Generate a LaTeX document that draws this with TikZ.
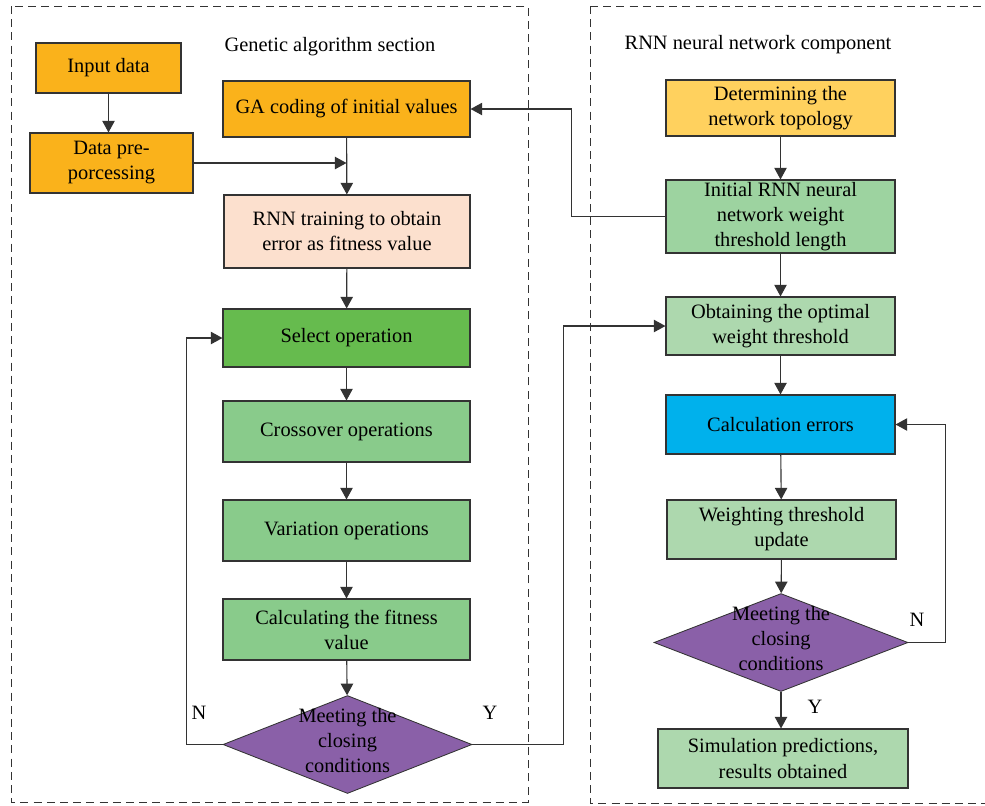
\documentclass[tikz,border=0pt]{standalone}
\usepackage{fontspec}
\setmainfont{Liberation Serif}
\usetikzlibrary{shapes.geometric,arrows.meta}

\definecolor{gaorange}{HTML}{FAB21B}
\definecolor{topyellow}{HTML}{FFD15E}
\definecolor{peach}{HTML}{FCE0CE}
\definecolor{selgreen}{HTML}{66BB4E}
\definecolor{midgreen}{HTML}{89CB8B}
\definecolor{initgreen}{HTML}{9DD3A0}
\definecolor{palegreen}{HTML}{ADD8AE}
\definecolor{errcyan}{HTML}{00B1EC}
\definecolor{decpurple}{HTML}{8A60A8}
\definecolor{linegray}{HTML}{333333}

\begin{document}
\begin{tikzpicture}[
  x=0.025cm, y=-0.025cm,
  font=\fontsize{14.5}{17.8}\selectfont,
  box/.style n args={3}{
    draw=linegray,
    line width=0.8pt,
    fill=#3,
    minimum width=#1*0.025cm,
    minimum height=#2*0.025cm,
    inner sep=0pt,
    align=center
  },
  decision/.style n args={2}{
    draw=linegray,
    line width=0.6pt,
    fill=decpurple,
    diamond,
    inner sep=0pt,
    minimum width=#1*0.025cm,
    minimum height=#2*0.025cm
  },
  arr/.style={
    draw=linegray,
    line width=0.8pt,
    -{Triangle[length=2.9mm,width=3.1mm]}
  },
  section/.style={
    draw=linegray,
    line width=0.6pt,
    dash pattern=on 2mm off 1.3mm
  },
]
\useasboundingbox (0,0) rectangle (985,805);

% the two parts
\draw[section] (11,6) rectangle (528,802);
\draw[section] (590,6) -- (1000,6);
\draw[section] (590,6) -- (590,803) -- (1000,803);
\node (gatitle) at (330,47) {Genetic algorithm section};
\node (rnntitle) at (758,45) {RNN neural network component};

% genetic algorithm
\node[box={145}{50}{gaorange}] (inp) at (108.5,68) {Input data};
\node[box={163}{60}{gaorange}] (pre) at (111.5,163) {Data pre-\\porcessing};
\node[box={247}{56}{gaorange}] (ga) at (346.5,109) {GA coding of initial values};
\node[box={246}{73}{peach}] (train) at (347,231.5) {RNN training to obtain\\error as fitness value};
\node[box={247}{58}{selgreen}] (sel) at (346.5,338) {Select operation};
\node[box={247}{61}{midgreen}] (cross) at (346.5,431.5) {Crossover operations};
\node[box={247}{61}{midgreen}] (var) at (346.5,530.5) {Variation operations};
\node[box={247}{61}{midgreen}] (fit) at (346.5,629.5) {Calculating the fitness\\value};
\node[decision={249}{93}] (dec1) at (347.5,744.5)
  {\raisebox{-2pt}[0pt][0pt]{\begin{tabular}{@{}c@{}}Meeting the\\closing\\conditions\end{tabular}}};

% rnn part
\node[box={229}{56}{topyellow}] (det) at (780.5,108) {Determining the\\network topology};
\node[box={229}{73}{initgreen}] (init) at (780.5,216.5) {Initial RNN neural\\network weight\\threshold length};
\node[box={229}{58}{palegreen}] (opt) at (780.5,326) {Obtaining the optimal\\weight threshold};
\node[box={229}{59}{errcyan}] (err) at (780.5,424.5) {Calculation errors};
\node[box={229}{59}{palegreen}] (upd) at (781.5,529.5) {Weighting threshold\\update};
\node[decision={254}{95}] (dec2) at (781,642.5)
  {\raisebox{-2pt}[0pt][0pt]{\begin{tabular}{@{}c@{}}Meeting the\\closing\\conditions\end{tabular}}};
\node[box={250}{59}{palegreen}] (sim) at (783,758.5) {Simulation predictions,\\results obtained};

\node (n1) at (199,713) {N};
\node (y1) at (490,713) {Y};
\node (n2) at (917,620) {N};
\node (y2) at (815,707) {Y};

% flow
\draw[arr] (inp) -- (inp |- pre.north);
\draw[arr] (pre.east) -- (pre.east -| ga.south);
\draw[arr] (ga) -- (train);
\draw[arr] (train) -- (sel);
\draw[arr] (sel) -- (cross);
\draw[arr] (cross) -- (var);
\draw[arr] (var) -- (fit);
\draw[arr] (fit) -- (dec1);
\draw[arr] (dec1.west) -- ++(-36,0) |- (sel.west);
\draw[arr] (dec1.east) -- ++(91,0) |- (opt.west);

\draw[arr] (det) -- (init);
\draw[arr] (init.west) -- ++(-94,0) |- (ga.east);
\draw[arr] (init) -- (opt);
\draw[arr] (opt) -- (err);
\draw[arr] (err) -- (upd);
\draw[arr] (upd) -- (dec2);
\draw[arr] (dec2.east) -- ++(37,0) |- (err.east);
\draw[arr] (dec2.south) -- (dec2.south |- sim.north);
\end{tikzpicture}
\end{document}
